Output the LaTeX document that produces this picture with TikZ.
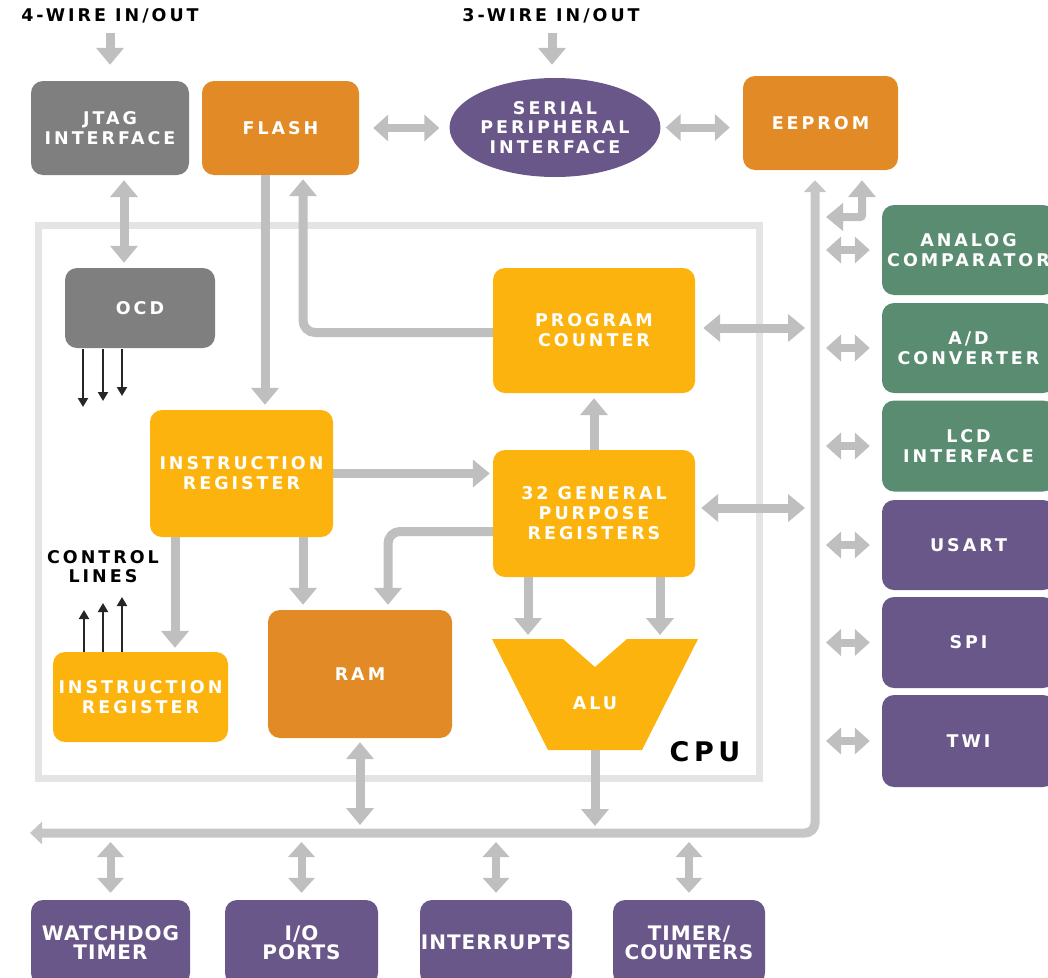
\documentclass[tikz,border=0pt]{standalone}
\usepackage{fontspec}
\setmainfont{DejaVu Sans}
\newfontfamily\lblfont[LetterSpace=17]{DejaVu Sans}
\newfontfamily\botfont[LetterSpace=5]{DejaVu Sans}
\usetikzlibrary{arrows.meta,shapes.geometric}

\definecolor{cgray}{HTML}{7F7F7F}
\definecolor{corange}{HTML}{E28A25}
\definecolor{cyellow}{HTML}{FDB30E}
\definecolor{cpurple}{HTML}{69578A}
\definecolor{cgreen}{HTML}{5A8C72}
\definecolor{carrow}{HTML}{BFBFBF}
\definecolor{cbus}{HTML}{C6C6C6}
\definecolor{cframe}{HTML}{E4E4E4}

\tikzset{
  blk/.style={rounded corners=12pt, inner sep=0pt, align=center, text=white,
    font=\lblfont\bfseries\fontsize{17.5}{20}\selectfont},
  graybox/.style={blk, fill=cgray},
  orangebox/.style={blk, fill=corange},
  yellowbox/.style={blk, fill=cyellow},
  purplebox/.style={blk, fill=cpurple},
  greenbox/.style={blk, fill=cgreen},
  botbox/.style={purplebox, font=\botfont\bfseries\fontsize{20}{19}\selectfont},
  caption/.style={inner sep=0pt, align=center, text=black,
    font=\lblfont\bfseries\fontsize{17.5}{19}\selectfont},
  garrow/.style={draw=carrow, line width=9pt,
    >={Triangle[width=27pt,length=17pt]}},
  sarrow/.style={draw=carrow, line width=8pt,
    >={Triangle[width=26pt,length=15pt]}},
  bus/.style={draw=cbus, line width=9pt, rounded corners=10pt,
    >={Triangle[width=22pt,length=12pt]}},
  thin/.style={draw=black!85, line width=2pt,
    >={Triangle[width=10pt,length=9pt]}},
}

\begin{document}
\begin{tikzpicture}[x=1pt, y=-1pt]
\useasboundingbox (0,0) rectangle (1048,977);

% CPU frame
\node[draw=cframe, line width=7pt, inner sep=0pt, minimum width=721pt,
      minimum height=553pt] (cpu) at (398.5,501.5) {};
\node[inner sep=0pt, font=\lblfont\bfseries\fontsize{27}{30}\selectfont] (cpulbl) at (705,752) {CPU};

% top row
\node[caption] (w4) at (110,16) {4-WIRE IN/OUT};
\node[caption] (w3) at (551,16) {3-WIRE IN/OUT};
\node[graybox, minimum width=158pt, minimum height=94pt] (jtag) at (110,128) {JTAG\\INTERFACE};
\node[orangebox, minimum width=157pt, minimum height=94pt] (flash) at (280.5,128) {FLASH};
\node[ellipse, fill=cpurple, text=white, inner sep=0pt, align=center,
      minimum width=210pt, minimum height=99pt,
      font=\lblfont\bfseries\fontsize{17.5}{19.5}\selectfont] (spi) at (555,127.5)
      {SERIAL\\PERIPHERAL\\INTERFACE};
\node[orangebox, minimum width=155pt, minimum height=94pt] (eeprom) at (820.5,123) {EEPROM};

% CPU blocks
\node[graybox, minimum width=150pt, minimum height=80pt] (ocd) at (140,308) {OCD};
\node[yellowbox, minimum width=202pt, minimum height=125pt] (pc) at (594,330.5) {PROGRAM\\COUNTER};
\node[yellowbox, minimum width=183pt, minimum height=127pt] (ir) at (241.5,473.5) {INSTRUCTION\\REGISTER};
\node[yellowbox, minimum width=202pt, minimum height=127pt] (gpr) at (594,513.5) {32 GENERAL\\PURPOSE\\REGISTERS};
\node[orangebox, minimum width=184pt, minimum height=128pt] (ram) at (360,674) {RAM};
\node[yellowbox, minimum width=175pt, minimum height=90pt] (ir2) at (140.5,697) {INSTRUCTION\\REGISTER};
\node[caption] (ctl) at (103,567) {CONTROL\\LINES};

% ALU
\coordinate (alutop) at (595,639);
\coordinate (alubot) at (595,750);
\fill[cyellow] (492,639) -- (563,639) -- (595,667) -- (627,639) -- (698,639)
  -- (642,750) -- (548,750) -- cycle;
\node[inner sep=0pt, text=white, font=\lblfont\bfseries\fontsize{17.5}{20}\selectfont] (alu) at (595,703) {ALU};

% peripherals on the right
\node[greenbox, minimum width=173pt, minimum height=90pt] (acomp) at (968.5,250) {ANALOG\\COMPARATOR};
\node[greenbox, minimum width=173pt, minimum height=90pt] (adc) at (968.5,348) {A/D\\CONVERTER};
\node[greenbox, minimum width=173pt, minimum height=91pt] (lcd) at (968.5,446) {LCD\\INTERFACE};
\node[purplebox, minimum width=173pt, minimum height=90pt] (usart) at (968.5,545) {USART};
\node[purplebox, minimum width=173pt, minimum height=91pt] (spib) at (968.5,642.5) {SPI};
\node[purplebox, minimum width=173pt, minimum height=92pt] (twi) at (968.5,741) {TWI};

% peripherals at the bottom
\node[botbox, minimum width=159pt, minimum height=85pt] (wdt) at (110.5,942.5) {WATCHDOG\\TIMER};
\node[botbox, minimum width=153pt, minimum height=85pt] (io) at (301.5,942.5) {I/O\\PORTS};
\node[botbox, minimum width=152pt, minimum height=85pt] (intr) at (496,942.5) {INTERRUPTS};
\node[botbox, minimum width=152pt, minimum height=85pt] (tc) at (689,942.5) {TIMER/\\COUNTERS};

% data bus
\coordinate (busl) at (30,833);
\coordinate (busc) at (815,833);
\draw[bus,<->, shorten >=10pt] (busl) -- (busc) -- (815,0 |- eeprom.south);
\coordinate (elink) at (826,217);
\draw[garrow,<->, line width=8pt, rounded corners=2pt, shorten >=10pt] (elink) -| (862,0 |- eeprom.south);

% top connectors
\draw[garrow,->, shorten <=9pt, shorten >=16pt] (110,0 |- w4.south) -- (110,0 |- jtag.north);
\draw[garrow,->, shorten <=9pt, shorten >=13pt] (552,0 |- w3.south) -- (552,0 |- spi.north);
\draw[sarrow,<->, shorten <=14pt, shorten >=10pt] (flash.east) -- (spi.west |- flash.east);
\draw[sarrow,<->, shorten <=5pt, shorten >=13pt] (spi.east) -- (eeprom.west |- spi.east);
\draw[garrow,<->, shorten <=5pt, shorten >=5pt] (124,0 |- jtag.south) -- (124,0 |- ocd.north);

% OCD outputs and control lines
\coordinate (o1) at (83,407);
\coordinate (o2) at (103,401);
\coordinate (o3) at (122,396);
\foreach \c in {o1,o2,o3}
  \draw[thin,->, shorten <=1pt] (\c |- ocd.south) -- (\c);
\coordinate (c1) at (84,610);
\coordinate (c2) at (103,603);
\coordinate (c3) at (122,597);
\foreach \c in {c1,c2,c3}
  \draw[thin,->] (\c |- ir2.north) -- (\c);

% internal connectors
\draw[garrow,->, shorten >=5pt] (265,0 |- flash.south) -- (265,0 |- ir.north);
\draw[garrow,->, rounded corners=12pt, shorten >=4pt] ([yshift=-2pt]pc.west) -| (303,0 |- flash.south);
\draw[garrow,<->, shorten <=8pt, shorten >=10pt] (pc.east |- 0,328) -- (busc |- 0,328);
\draw[garrow,->, shorten >=3pt] (ir.east) -- (gpr.west |- ir.east);
\draw[garrow,->, shorten >=5pt] (gpr.north) -- (pc.south);
\draw[garrow,<->, shorten <=6pt, shorten >=10pt] (gpr.east |- 0,508) -- (busc |- 0,508);
\draw[garrow,->, rounded corners=12pt, shorten >=5pt] ([yshift=-18pt]gpr.west) -| (388,0 |- ram.north);
\draw[garrow,->, shorten >=5pt] (303,0 |- ir.south) -- (303,0 |- ram.north);
\draw[garrow,->, shorten >=4pt] (175,0 |- ir.south) -- (175,0 |- ir2.north);
\draw[garrow,->, shorten >=4pt] (528,0 |- gpr.south) -- (528,0 |- alutop);
\draw[garrow,->, shorten >=4pt] (660,0 |- gpr.south) -- (660,0 |- alutop);
\draw[garrow,<->, shorten <=4pt, shorten >=8pt] (ram.south) -- (ram.south |- busc);
\draw[garrow,->, shorten >=7pt] (alubot) -- (alubot |- busc);

% right-hand peripheral links
\foreach \p in {acomp,adc,lcd,usart,spib,twi}
  \draw[sarrow,<->, shorten <=11pt, shorten >=12pt] (busc |- \p.west) -- (\p.west);

% bottom peripheral links
\foreach \p in {wdt,io,intr,tc}
  \draw[sarrow,<->, shorten <=9pt, shorten >=7pt] (\p.north |- busc) -- (\p.north);
\end{tikzpicture}
\end{document}
